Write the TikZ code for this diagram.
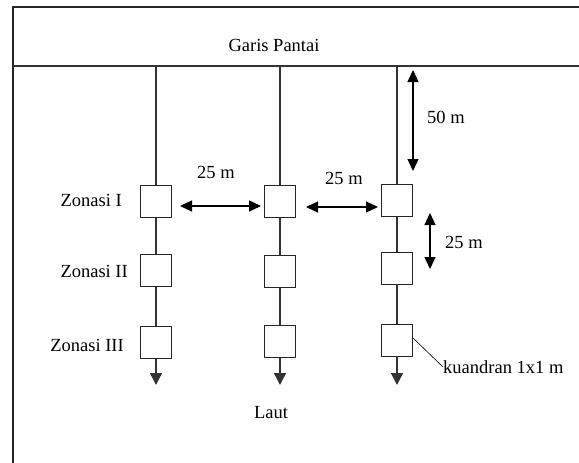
\documentclass[tikz,border=0pt]{standalone}
\usepackage{fontspec}
\setmainfont{Liberation Serif}
\usetikzlibrary{arrows.meta}
\tikzset{
  quad/.style={draw=black!85, line width=1pt, fill=white, minimum width=31pt, minimum height=32pt, inner sep=0pt},
  transect/.style={draw=black!80, line width=1.4pt},
  tip/.style={-{Triangle[width=12pt,length=12pt]}},
  dimline/.style={draw=black, line width=1.3pt, {Triangle[width=11pt,length=12pt]}-{Triangle[width=11pt,length=12pt]}},
  lbl/.style={font=\fontsize{18.5}{20}\selectfont, inner sep=0pt}
}
\begin{document}
\begin{tikzpicture}[x=1pt,y=-1pt]
\useasboundingbox (0,0) rectangle (579,463);
% outer frame (top and left) and the shoreline
\coordinate (frTR) at (579,7);
\coordinate (frTL) at (13,7);
\coordinate (frBL) at (13,463);
\coordinate (shL) at (13,66);
\coordinate (shR) at (579,66);
\draw[black!85, line width=1.3pt] (frTR) -- (frTL) -- (frBL);
\draw[black!80, line width=1.3pt] (shL) -- (shR);
\node[lbl] (garis) at (274,45) {Garis Pantai};

% quadrats along three transects
\node[quad] (a1) at (156,201) {};
\node[quad] (a2) at (156,270) {};
\node[quad] (a3) at (156,342) {};
\node[quad] (b1) at (280,201) {};
\node[quad] (b2) at (280,271) {};
\node[quad] (b3) at (280,341) {};
\node[quad] (c1) at (397,200) {};
\node[quad] (c2) at (397,268) {};
\node[quad] (c3) at (397,340) {};

% transect start points on the shoreline and seaward ends
\coordinate (a0) at (156,66);
\coordinate (b0) at (280,66);
\coordinate (c0) at (397,66);
\coordinate (aE) at (156,385);
\coordinate (bE) at (280,385);
\coordinate (cE) at (397,385);

\foreach \t in {a,b,c}{
  \draw[transect] (\t0) -- (\t1.north);
  \draw[transect] (\t1.south) -- (\t2.north);
  \draw[transect] (\t2.south) -- (\t3.north);
  \draw[transect, tip] (\t3.south) -- (\t E);
}

% spacing between transects
\coordinate (h1a) at (180,206);
\coordinate (h1b) at (261,206);
\coordinate (h2a) at (306,207);
\coordinate (h2b) at (378,207);
\draw[dimline] (h1a) -- (h1b);
\draw[dimline] (h2a) -- (h2b);
\node[lbl] (d1) at (216,172) {25 m};
\node[lbl] (d2) at (344,178) {25 m};

% distances along the third transect
\coordinate (v1a) at (413,70);
\coordinate (v1b) at (413,171);
\coordinate (v2a) at (430,213);
\coordinate (v2b) at (430,269);
\draw[dimline] (v1a) -- (v1b);
\draw[dimline] (v2a) -- (v2b);
\node[lbl] (d3) at (446,117) {50 m};
\node[lbl] (d4) at (464,242) {25 m};

% zone labels
\node[lbl, anchor=east] (z1) at (122,200) {Zonasi I};
\node[lbl, anchor=east] (z2) at (128,271) {Zonasi II};
\node[lbl, anchor=east] (z3) at (124,345) {Zonasi III};

% quadrat callout and sea label
\node[lbl, anchor=west] (kuad) at (443,367) {kuandran 1x1 m};
\draw[black, line width=0.6pt] (c3.east) ++(0,-2) -- (kuad.west);
\node[lbl] (laut) at (271,413) {Laut};
\end{tikzpicture}
\end{document}
